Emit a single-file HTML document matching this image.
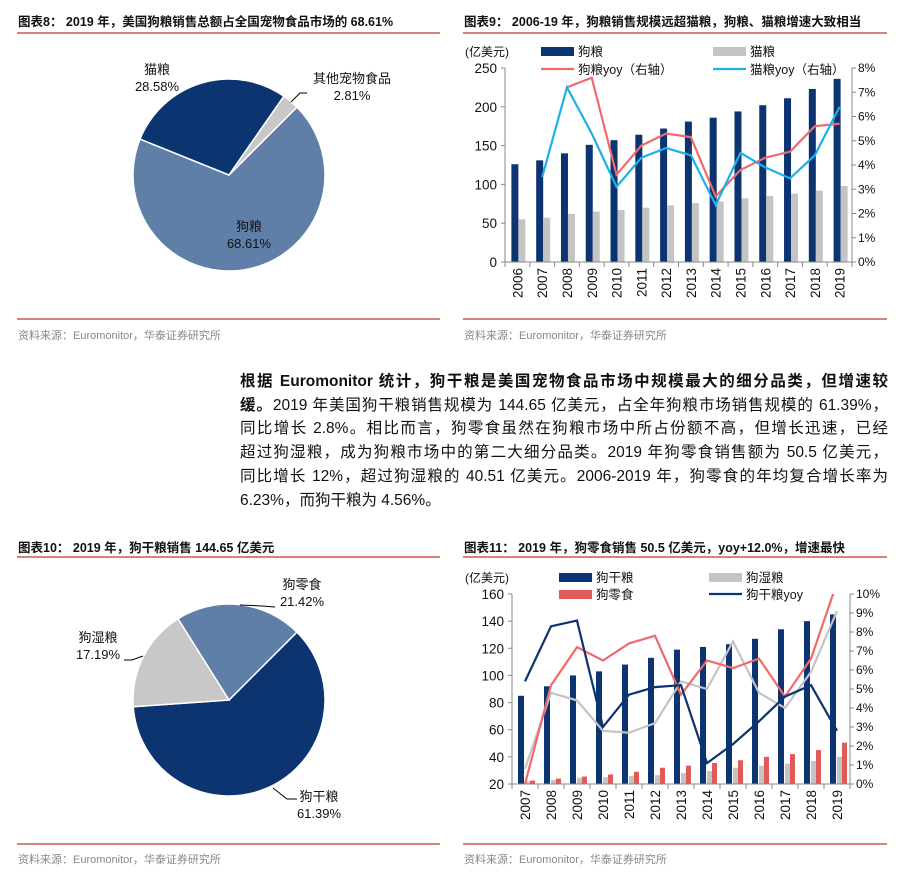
<!DOCTYPE html>
<html><head><meta charset="utf-8"><style>
body{margin:0;background:#fff;width:914px;height:881px;overflow:hidden;font-family:"Liberation Sans","Noto Sans CJK SC",sans-serif}
svg{position:absolute;left:0;top:0}
#para{position:absolute;left:240px;top:370px;width:648px;font-size:15.5px;line-height:23.7px;color:#111}
#para div{text-align:justify;text-align-last:justify;white-space:nowrap}
#para div.last{text-align-last:left}
</style></head><body>
<svg id="s" width="914" height="881" font-family="Liberation Sans, Noto Sans CJK SC, sans-serif">
<g font-size="12.5" font-weight="bold" fill="#111">
<text x="18" y="26">图表8：  2019 年，美国狗粮销售总额占全国宠物食品市场的 68.61%</text>
<text x="464" y="26">图表9：  2006-19 年，狗粮销售规模远超猫粮，狗粮、猫粮增速大致相当</text>
<text x="18" y="552">图表10：  2019 年，狗干粮销售 144.65 亿美元</text>
<text x="464" y="552">图表11：  2019 年，狗零食销售 50.5 亿美元，yoy+12.0%，增速最快</text>
</g>
<g stroke="#c0392b" stroke-width="1.2">
<line x1="17" y1="33" x2="440" y2="33"/><line x1="463" y1="33" x2="887" y2="33"/>
<line x1="17" y1="319" x2="440" y2="319"/><line x1="463" y1="319" x2="887" y2="319"/>
<line x1="17" y1="557" x2="440" y2="557"/><line x1="463" y1="557" x2="887" y2="557"/>
<line x1="17" y1="844" x2="440" y2="844"/><line x1="463" y1="844" x2="887" y2="844"/>
</g>
<g font-size="11" fill="#888">
<text x="18" y="339">资料来源：Euromonitor，华泰证券研究所</text>
<text x="464" y="339">资料来源：Euromonitor，华泰证券研究所</text>
<text x="18" y="863">资料来源：Euromonitor，华泰证券研究所</text>
<text x="464" y="863">资料来源：Euromonitor，华泰证券研究所</text>
</g>
<g id="pie1"></g>
<g id="pie2"></g>
<g id="c1"></g>
<g id="c2"></g>
</svg>
<div id="para">
<div><b>根据 Euromonitor 统计，狗干粮是美国宠物食品市场中规模最大的细分品类，但增速较</b></div>
<div><b>缓。</b>2019 年美国狗干粮销售规模为 144.65 亿美元，占全年狗粮市场销售规模的 61.39%，</div>
<div>同比增长 2.8%。相比而言，狗零食虽然在狗粮市场中所占份额不高，但增长迅速，已经</div>
<div>超过狗湿粮，成为狗粮市场中的第二大细分品类。2019 年狗零食销售额为 50.5 亿美元，</div>
<div>同比增长 12%，超过狗湿粮的 40.51 亿美元。2006-2019 年，狗零食的年均复合增长率为</div>
<div class="last">6.23%，而狗干粮为 4.56%。</div>
</div>
<script>
// ---- data ----
const pie1Labels=["狗粮","猫粮","其他宠物食品"];
const pie1Values=[68.61,28.58,2.81];
const pie2Labels=["狗干粮","狗湿粮","狗零食"];
const pie2Values=[61.39,17.19,21.42];
const c1Years=["2006","2007","2008","2009","2010","2011","2012","2013","2014","2015","2016","2017","2018","2019"];
const c1Dog=[126,131,140,151,157,164,172,181,186,194,202,211,223,236];
const c1Cat=[55,57,62,65,67,70,73,76,78,82,85,88,92,98];
const c1DogYoy=[null,null,7.2,7.6,3.6,4.8,5.3,5.15,2.7,3.8,4.3,4.55,5.6,5.7];
const c1CatYoy=[null,3.5,7.2,5.3,3.1,4.3,4.7,4.4,2.35,4.5,3.9,3.45,4.4,6.4];
const c1LeftTicks=[0,50,100,150,200,250];
const c1RightTicks=[0,1,2,3,4,5,6,7,8];
const c2Years=["2007","2008","2009","2010","2011","2012","2013","2014","2015","2016","2017","2018","2019"];
const c2Dry=[85,92,100,103,108,113,119,121,123,127,134,140,145];
const c2Wet=[22,23,24.5,25,26,26.5,28,29.5,32,33.5,35,37,40];
const c2Snack=[22.5,24,25.5,27,29,32,33.5,35.5,37.5,40,42,45,50.5];
const c2DryYoy=[5.4,8.3,8.6,3.0,4.7,5.1,5.2,1.1,2.1,3.3,4.6,5.2,2.8];
const c2WetYoy=[0.8,4.8,4.4,2.8,2.7,3.2,5.4,5.0,7.5,4.8,4.0,5.9,9.1];
const c2SnackYoy=[0,5.2,7.2,6.5,7.4,7.8,4.7,6.5,6.1,6.6,4.6,6.6,10.6];
const c2LeftTicks=[20,40,60,80,100,120,140,160];
const c2RightTicks=[0,1,2,3,4,5,6,7,8,9,10];

const NS="http://www.w3.org/2000/svg";
function mk(parent,tag,attrs,txt){const e=document.createElementNS(NS,tag);for(const k in attrs)e.setAttribute(k,attrs[k]);if(txt!==undefined)e.textContent=txt;parent.appendChild(e);return e;}

function pie(g,cx,cy,r,vals,startDeg,colors,names){
  let a=startDeg*Math.PI/180;const tot=vals.reduce((s,v)=>s+v,0);
  vals.forEach((v,i)=>{const da=v/tot*2*Math.PI;const a2=a+da;
    const x1=cx+r*Math.cos(a),y1=cy+r*Math.sin(a),x2=cx+r*Math.cos(a2),y2=cy+r*Math.sin(a2);
    const p=mk(g,"path",{d:`M${cx},${cy}L${x1},${y1}A${r},${r} 0 ${da>Math.PI?1:0} 1 ${x2},${y2}Z`,fill:colors[i],stroke:"#fff","stroke-width":1.5});
    
    
    a=a2;});
}
function lbl(g,x,y,a,b,name){const t=mk(g,"text",{x:x,y:y,"text-anchor":"middle","font-size":"13",fill:"#111"});
  
  
  mk(t,"tspan",{x:x,dy:0},a);mk(t,"tspan",{x:x,dy:17},b);}

const p1=document.getElementById("pie1");
pie(p1,229,175,96,pie1Values,315,["#5f7fa8","#0b3470","#c8c8c8"],["slice-dog-food","slice-cat-food","slice-other"]);
lbl(p1,249,231,pie1Labels[0],pie1Values[0].toFixed(2)+"%","label-dog-food");
lbl(p1,157,74,pie1Labels[1],pie1Values[1].toFixed(2)+"%","label-cat-food");
lbl(p1,352,83,pie1Labels[2],pie1Values[2].toFixed(2)+"%","label-other");
mk(p1,"polyline",{points:"291,102 300,93 307,93",fill:"none",stroke:"#000"});

const p2=document.getElementById("pie2");
pie(p2,229,700,96,pie2Values,315,["#0b3470","#c8c8c8","#5f7fa8"],["slice-dry","slice-wet","slice-snack"]);
lbl(p2,319,801,pie2Labels[0],pie2Values[0].toFixed(2)+"%","label-dry");
lbl(p2,98,642,pie2Labels[1],pie2Values[1].toFixed(2)+"%","label-wet");
lbl(p2,302,589,pie2Labels[2],pie2Values[2].toFixed(2)+"%","label-snack");
mk(p2,"polyline",{points:"124,660 132,660 143,656",fill:"none",stroke:"#000"});
mk(p2,"polyline",{points:"240,605 262,606 275,607",fill:"none",stroke:"#000"});
mk(p2,"polyline",{points:"273,788 287,799 297,799",fill:"none",stroke:"#000"});

function combo(g,o){
  const {x0,x1,yb,yt,lmin,lmax,rmax,cats,lt,rt}=o;
  const n=cats.length,w=(x1-x0)/n;
  const xc=i=>x0+w*(i+0.5);
  const yl=v=>yb-(v-lmin)/(lmax-lmin)*(yb-yt);
  const yr=v=>yb-v/rmax*(yb-yt);
  const clipId=o.id+"clip";
  const cp=mk(mk(g,"defs",{}),"clipPath",{id:clipId});mk(cp,"rect",{x:x0,y:yt,width:x1-x0,height:yb-yt});
  o.bars.forEach(b=>{b.vals.forEach((v,i)=>{
    const r=mk(g,"rect",{x:xc(i)+b.off,y:yl(v),width:b.w,height:yb-yl(v),fill:b.color});
    
    
  });});
  o.lines.forEach(l=>{const pts=[];l.vals.forEach((v,i)=>{if(v!==null)pts.push(xc(i)+","+yr(v));});
    const p=mk(g,"polyline",{points:pts.join(" "),fill:"none",stroke:l.color,"stroke-width":2.2,"clip-path":`url(#${clipId})`});
    
    
  });
  const ax=mk(g,"g",{stroke:"#888","stroke-width":1});
  mk(ax,"line",{x1:x0,y1:yt,x2:x0,y2:yb});mk(ax,"line",{x1:x1,y1:yt,x2:x1,y2:yb});mk(ax,"line",{x1:x0,y1:yb,x2:x1,y2:yb});
  for(let i=0;i<=n;i++)mk(ax,"line",{x1:x0+w*i,y1:yb,x2:x0+w*i,y2:yb+5});
  lt.forEach(v=>{mk(ax,"line",{x1:x0-4,y1:yl(v),x2:x0,y2:yl(v)});
    const t=mk(g,"text",{x:x0-8,y:yl(v)+5,"text-anchor":"end","font-size":"13.5",fill:"#111"},String(v));
    
    });
  rt.forEach(v=>{mk(ax,"line",{x1:x1,y1:yr(v),x2:x1+4,y2:yr(v)});
    const t=mk(g,"text",{x:x1+6,y:yr(v)+4,"font-size":"12",fill:"#111"},v+"%");
    
    });
  cats.forEach((c,i)=>{const t=mk(g,"text",{transform:`translate(${xc(i)+5},${yb+6}) rotate(-90)`,"text-anchor":"end","font-size":"13.5",fill:"#111"},c);
    
    });
  const u=mk(g,"text",{x:465,y:o.legY1+5,"font-size":"12",fill:"#111"},"(亿美元)");
  
  
  o.legend.forEach(L=>{
    if(L.type==="bar")mk(g,"rect",{x:L.x,y:L.y-4,width:33,height:9,fill:L.color});
    else mk(g,"line",{x1:L.x,y1:L.y,x2:L.x+33,y2:L.y,stroke:L.color,"stroke-width":2.2});
    const t=mk(g,"text",{x:L.x+37,y:L.y+5,"font-size":"12.5",fill:"#111"},L.text);
    
    
  });
}
combo(document.getElementById("c1"),{id:"c1",x0:505,x1:852,yb:262,yt:68,lmin:0,lmax:250,rmax:8,cats:c1Years,lt:c1LeftTicks,rt:c1RightTicks,legY1:51,
 bars:[{vals:c1Dog,color:"#0b3470",off:-6,w:7,name:"bar-dog"},{vals:c1Cat,color:"#c4c4c4",off:1,w:7,name:"bar-cat"}],
 lines:[{vals:c1DogYoy,color:"#ef6a6a",name:"line-dog-yoy"},{vals:c1CatYoy,color:"#1eaee8",name:"line-cat-yoy"}],
 legend:[{type:"bar",x:541,y:51,color:"#0b3470",text:"狗粮"},{type:"bar",x:713,y:51,color:"#c4c4c4",text:"猫粮"},
  {type:"line",x:541,y:69,color:"#ef6a6a",text:"狗粮yoy（右轴）"},{type:"line",x:713,y:69,color:"#1eaee8",text:"猫粮yoy（右轴）"}]});
combo(document.getElementById("c2"),{id:"c2",x0:512,x1:850,yb:784,yt:594,lmin:20,lmax:160,rmax:10,cats:c2Years,lt:c2LeftTicks,rt:c2RightTicks,legY1:577,
 bars:[{vals:c2Dry,color:"#0b3470",off:-7,w:6,name:"bar-dry"},{vals:c2Wet,color:"#c4c4c4",off:0,w:5,name:"bar-wet"},{vals:c2Snack,color:"#e05a5a",off:5,w:5,name:"bar-snack"}],
 lines:[{vals:c2WetYoy,color:"#c4c4c4",name:"line-wet-yoy"},{vals:c2SnackYoy,color:"#ef6a6a",name:"line-snack-yoy"},{vals:c2DryYoy,color:"#0b3470",name:"line-dry-yoy"}],
 legend:[{type:"bar",x:559,y:577,color:"#0b3470",text:"狗干粮"},{type:"bar",x:709,y:577,color:"#c4c4c4",text:"狗湿粮"},
  {type:"bar",x:559,y:594,color:"#e05a5a",text:"狗零食"},{type:"line",x:709,y:594,color:"#0b3470",text:"狗干粮yoy"}]});
</script>
</body></html>
